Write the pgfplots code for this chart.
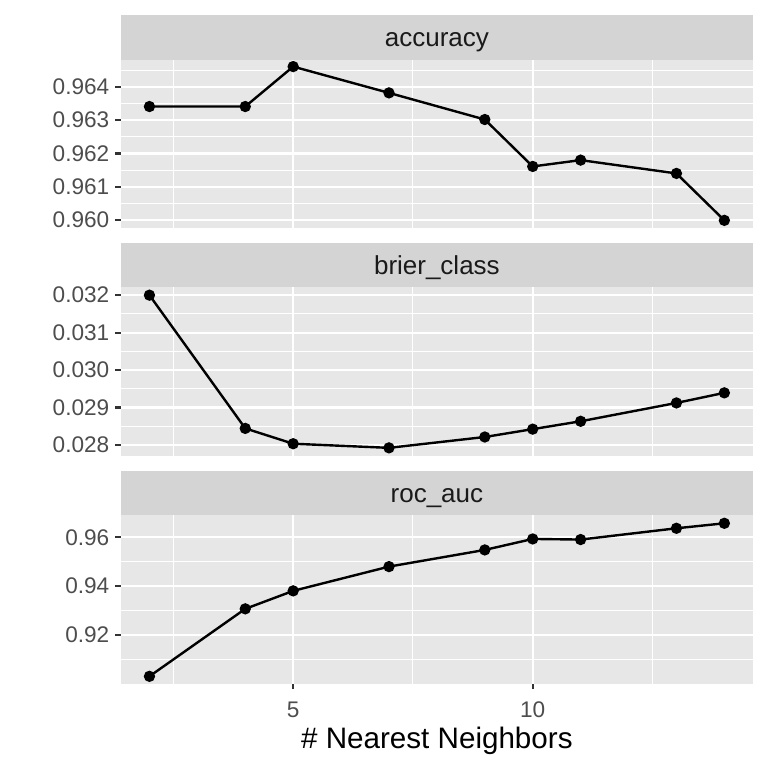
\documentclass[border=0pt]{standalone}
\usepackage{pgfplots}
\pgfplotsset{compat=1.18}
\usepackage{fontspec}
\setmainfont{Liberation Sans}
\definecolor{panelbg}{HTML}{E7E7E7}
\definecolor{stripbg}{HTML}{D4D4D4}
\definecolor{ticklab}{HTML}{4D4D4D}
\definecolor{tickcol}{HTML}{333333}
\definecolor{striptext}{HTML}{1A1A1A}

\pgfplotsset{
  facet/.style={
    scale only axis, width=316.2pt, height=84.2pt,
    xmin=1.4, xmax=14.6,
    axis background/.style={fill=panelbg},
    axis line style={draw=none},
    tick align=outside,
    xtick={5,10}, minor xtick={2.5,7.5,12.5},
    grid=both,
    major grid style={white, line width=1.07pt},
    minor grid style={white, line width=0.53pt},
    major tick length=2.75pt, minor tick length=0pt,
    tick style={tickcol, line width=1.07pt},
    xtick pos=bottom, ytick pos=left,
    yticklabel style={font=\fontsize{11.3}{13}\selectfont, text=ticklab, inner sep=0pt, xshift=-2.75pt},
    xticklabel style={font=\fontsize{11.3}{13}\selectfont, text=ticklab, inner sep=0pt, yshift=-6.2pt},
    clip=false,
    /pgf/number format/assume math mode=true,
  },
  strip/.style={
    execute at end axis={
      \fill[stripbg] (rel axis cs:0,1) rectangle ([yshift=22.2pt]rel axis cs:1,1);
      \node[text=striptext, font=\fontsize{13}{15}\selectfont, inner sep=0pt, anchor=base] at ([yshift=6.55pt]rel axis cs:0.5,1) {#1};
    }
  },
  dataline/.style={black, line width=1.2pt, mark=*, mark size=2.2pt, mark options={solid}},
}

\pgfplotstableread{
k  acc      brier    roc
2  0.96341  0.03200  0.90314
4  0.96341  0.02844  0.93073
5  0.96461  0.02803  0.93808
7  0.96382  0.02792  0.94800
9  0.96302  0.02821  0.95482
10 0.96161  0.02842  0.95931
11 0.96180  0.02863  0.95906
13 0.96140  0.02912  0.96367
14 0.95999  0.02939  0.96571
}\datatab

\begin{document}
\begin{tikzpicture}
\path[use as bounding box] (0,0) rectangle (384pt,-384pt);

\begin{axis}[facet, strip={accuracy}, at={(60.35pt,-114pt)}, anchor=south west,
  ymin=0.95976, ymax=0.96482,
  ytick={0.960,0.961,0.962,0.963,0.964},
  yticklabels={0.960,0.961,0.962,0.963,0.964},
  minor ytick={0.9605,0.9615,0.9625,0.9635,0.9645},
  xticklabels={}, xtick style={draw=none}]
\addplot[dataline] table[x=k, y=acc] {\datatab};
\end{axis}

\begin{axis}[facet, strip={brier\_class}, at={(60.35pt,-227.85pt)}, anchor=south west,
  ymin=0.02771, ymax=0.03221,
  ytick={0.028,0.029,0.030,0.031,0.032},
  yticklabels={0.028,0.029,0.030,0.031,0.032},
  minor ytick={0.0285,0.0295,0.0305,0.0315},
  xticklabels={}, xtick style={draw=none}]
\addplot[dataline] table[x=k, y=brier] {\datatab};
\end{axis}

\begin{axis}[facet, strip={roc\_auc}, at={(60.35pt,-341.85pt)}, anchor=south west,
  ymin=0.90012, ymax=0.96898,
  ytick={0.92,0.94,0.96},
  yticklabels={0.92,0.94,0.96},
  minor ytick={0.91,0.93,0.95},
  xticklabels={5,10},
  xlabel={\# Nearest Neighbors},
  xlabel style={font=\fontsize{14.8}{17}\selectfont, text=black, inner sep=0pt, yshift=-4.5pt}]
\addplot[dataline] table[x=k, y=roc] {\datatab};
\end{axis}
\end{tikzpicture}
\end{document}
